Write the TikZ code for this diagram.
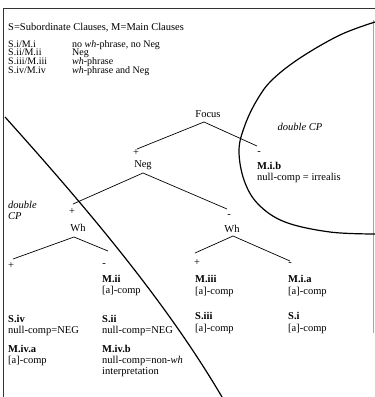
\documentclass[tikz,border=0pt]{standalone}
\usepackage{fontspec}
\setmainfont{Liberation Serif}
\begin{document}
\begin{tikzpicture}[x=1pt,y=-1pt,
  txt/.style={anchor=west,inner sep=0pt,font=\fontsize{10.5}{12}\selectfont},
  leg/.style={anchor=base west,inner sep=0pt,text height=6.6pt,text depth=1.6pt,font=\fontsize{10}{11}\selectfont},
  ctr/.style={inner sep=0pt,font=\fontsize{10.5}{12}\selectfont},
  bld/.style={txt,font=\fontsize{10.5}{12}\selectfont\bfseries},
  itl/.style={txt,font=\fontsize{10.5}{12}\selectfont\itshape},
  branch/.style={line width=0.7pt},
  bigline/.style={line width=1.2pt},
  frame/.style={line width=0.9pt,black!80}]
\useasboundingbox (0,0) rectangle (375,397);
% frame
\draw[frame] (3,397) -- (3,8) -- (375,8);
\draw[black!35,line width=0.6pt] (373,20) -- (373,333);
% legend
\node[txt] (title) at (8,28) {S=Subordinate Clauses, M=Main Clauses};
\node[leg] (l1a) at (8,47) {S.i/M.i};
\node[leg] (l1b) at (72,47) {no \textit{wh}-phrase, no Neg};
\node[leg] (l2a) at (8,55.8) {S.ii/M.ii};
\node[leg] (l2b) at (72,55.8) {Neg};
\node[leg] (l3a) at (8,64.6) {S.iii/M.iii};
\node[leg] (l3b) at (72,64.6) {\textit{wh}-phrase};
\node[leg] (l4a) at (8,73.4) {S.iv/M.iv};
\node[leg] (l4b) at (72,73.4) {\textit{wh}-phrase and Neg};
% Focus
\node[ctr] (focus) at (208,114) {Focus};
\coordinate (fA) at (204,122);
\coordinate (fL) at (137,149);
\coordinate (fR) at (257,146);
\draw[branch] (fL) -- (fA) -- (fR);
\node[ctr] (p1) at (136,153) {+};
\node[ctr] (neg) at (143,165) {Neg};
\node[ctr] (m1) at (259,153) {-};
\node[bld] (mib) at (257,166) {M.i.b};
\node[txt] (mibt) at (257,178) {null-comp = irrealis};
\node[ctr,font=\fontsize{10.5}{12}\selectfont\itshape] (dcp1) at (300,127) {double CP};
% Neg
\coordinate (nA) at (143,173);
\coordinate (nL) at (73,204);
\coordinate (nR) at (227,209);
\draw[branch] (nL) -- (nA) -- (nR);
\node[ctr] (p2) at (72,212) {+};
\node[ctr] (wh1) at (78,228) {Wh};
\node[ctr] (m2) at (229,216) {-};
\node[ctr] (wh2) at (232,229) {Wh};
\node[itl] (dbl) at (8,205) {double};
\node[itl] (cp) at (8,216.5) {CP};
% left Wh
\coordinate (w1A) at (74,237);
\coordinate (w1L) at (13,259);
\coordinate (w1R) at (108,251);
\draw[branch] (w1L) -- (w1A) -- (w1R);
\node[ctr] (p3) at (11,266) {+};
\node[ctr] (m3) at (104,265) {-};
\node[bld] (mii) at (102,279) {M.ii};
\node[txt] (miit) at (102,291) {[a]-comp};
% right Wh
\coordinate (w2A) at (233,236);
\coordinate (w2L) at (195,253);
\coordinate (w2R) at (290,261);
\draw[branch] (w2L) -- (w2A) -- (w2R);
\node[ctr] (p4) at (197,263) {+};
\node[ctr] (m4) at (290,264) {-};
\node[bld] (miii) at (195,279) {M.iii};
\node[txt] (miiit) at (195,292) {[a]-comp};
\node[bld] (siii) at (195,316) {S.iii};
\node[txt] (siiit) at (195,329) {[a]-comp};
\node[bld] (mia) at (288,279) {M.i.a};
\node[txt] (miat) at (288,292) {[a]-comp};
\node[bld] (si) at (288,316) {S.i};
\node[txt] (sit) at (288,329) {[a]-comp};
% bottom left
\node[bld] (siv) at (8,319) {S.iv};
\node[txt] (sivt) at (8,331) {null-comp=NEG};
\node[bld] (sii) at (102,319) {S.ii};
\node[txt] (siit) at (102,331) {null-comp=NEG};
\node[bld] (miva) at (8,349) {M.iv.a};
\node[txt] (mivat) at (8,361) {[a]-comp};
\node[bld] (mivb) at (102,349) {M.iv.b};
\node[txt] (mivbt) at (102,361) {null-comp=non-\textit{wh}};
\node[txt] (mivbu) at (102,372.5) {interpretation};
% big diagonal boundary
\draw[bigline] (5,117) .. controls (84,205) and (165,300) .. (222,397);
% double CP ellipse
\draw[bigline] plot[smooth,tension=0.6] coordinates {(375,22) (340,35) (300,58) (272,80) (257,100) (245,125) (239,150) (244,180) (258,204) (285,222) (330,232) (375,234)};
\end{tikzpicture}
\end{document}
